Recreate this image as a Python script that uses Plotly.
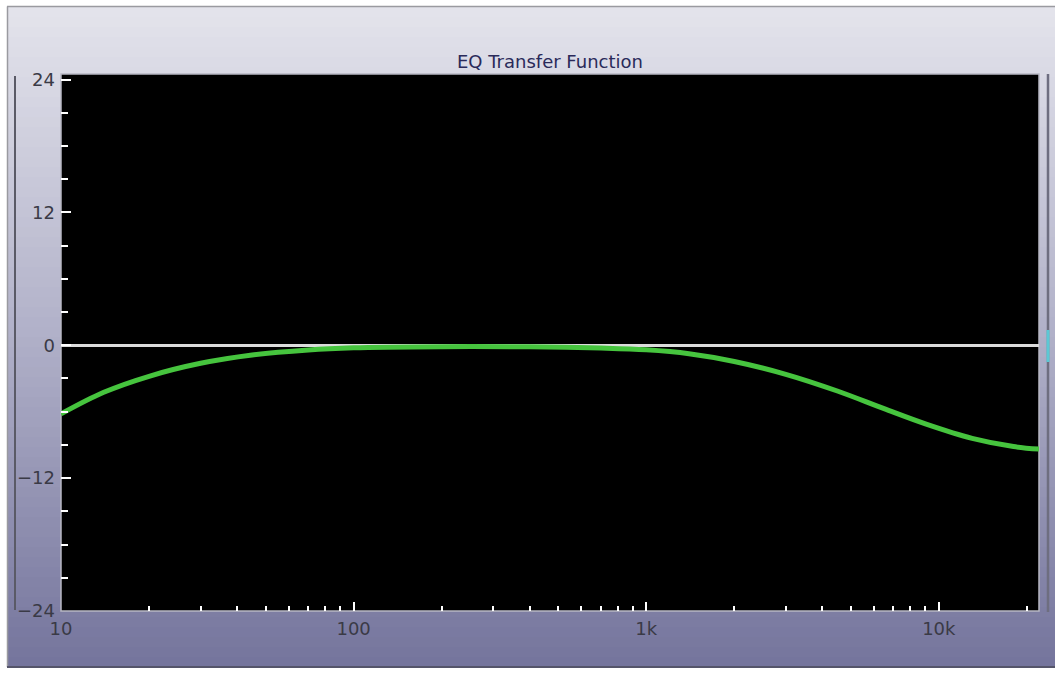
import plotly.graph_objects as go

# ---- data ----
freq_hz = [10, 14, 20, 30, 45, 70, 100, 200, 400, 700, 1000, 1400, 2000,
           3000, 4500, 6500, 9000, 13000, 18000, 22000]
gain_db = [-6.2, -4.25, -2.8, -1.63, -0.88, -0.42, -0.23, -0.13, -0.13, -0.25,
           -0.41, -0.76, -1.46, -2.62, -4.13, -5.73, -7.1, -8.41, -9.15, -9.38]

x_tickvals = [10, 100, 1000, 10000]
x_ticktext = ["10", "100", "1k", "10k"]
x_minor = [20, 30, 40, 50, 60, 70, 80, 90,
           200, 300, 400, 500, 600, 700, 800, 900,
           2000, 3000, 4000, 5000, 6000, 7000, 8000, 9000, 20000]
y_tickvals = [-24, -12, 0, 12, 24]
title_text = "EQ Transfer Function"

# ---- geometry (pixels) ----
W, H = 1055, 673
L, R, T, B = 61, 1039, 74, 611
pw, ph = R - L, B - T


def px(xp):
    return (xp - L) / pw


def py(yp):
    return (B - yp) / ph


shapes = []
# gradient window background
top_c = (228, 228, 236)
mid_c = (176, 176, 200)
bot_c = (116, 116, 156)
y0p, y1p = 7, 667
n = 66
for i in range(n):
    a = y0p + (y1p - y0p) * i / n
    b = y0p + (y1p - y0p) * (i + 1) / n
    t = (i + 0.5) / n
    if t < 0.5:
        u = t / 0.5
        c = [round(top_c[k] + (mid_c[k] - top_c[k]) * u) for k in range(3)]
    else:
        u = (t - 0.5) / 0.5
        c = [round(mid_c[k] + (bot_c[k] - mid_c[k]) * u) for k in range(3)]
    shapes.append(dict(type="rect", xref="paper", yref="paper",
                       x0=px(7), x1=px(1055), y0=py(b + 0.6), y1=py(a),
                       fillcolor="rgb(%d,%d,%d)" % tuple(c), line_width=0,
                       layer="below"))
# window frame lines
shapes.append(dict(type="line", xref="paper", yref="paper", x0=px(7), x1=px(1055),
                   y0=py(6.5), y1=py(6.5), line=dict(color="#9a9aa0", width=1.5), layer="below"))
shapes.append(dict(type="line", xref="paper", yref="paper", x0=px(7.5), x1=px(7.5),
                   y0=py(667), y1=py(6.5), line=dict(color="#9a9aa0", width=1.5), layer="below"))
shapes.append(dict(type="line", xref="paper", yref="paper", x0=px(7), x1=px(1055),
                   y0=py(667), y1=py(667), line=dict(color="#55556a", width=2), layer="below"))
# left/right side bars
shapes.append(dict(type="line", xref="paper", yref="paper", x0=px(15), x1=px(15),
                   y0=py(610), y1=py(76), line=dict(color="#5a5a66", width=2), layer="below"))
shapes.append(dict(type="line", xref="paper", yref="paper", x0=px(1048), x1=px(1048),
                   y0=py(612), y1=py(74), line=dict(color="#6e6e80", width=2.5), layer="below"))
shapes.append(dict(type="rect", xref="paper", yref="paper", x0=px(1046.5), x1=px(1049.5),
                   y0=py(362), y1=py(330), fillcolor="#5cc8d4", line_width=0, layer="below"))
# plot area
shapes.append(dict(type="rect", xref="paper", yref="paper", x0=0, x1=1, y0=0, y1=1,
                   fillcolor="black", line=dict(color="#b8b8c4", width=1.5), layer="below"))

fig = go.Figure()
fig.add_trace(go.Scatter(
    x=freq_hz, y=gain_db, mode="lines",
    line=dict(color="#46c43e", width=5, shape="spline", smoothing=1.0),
    hoverinfo="skip", showlegend=False))

tick_font = dict(family="DejaVu Sans", size=18, color="#3a3a46")

fig.update_layout(
    width=W, height=H,
    margin=dict(l=L, r=W - R, t=T, b=H - B, pad=0),
    paper_bgcolor="white",
    plot_bgcolor="black",
    showlegend=False,
    shapes=shapes,
    annotations=[dict(text=title_text, xref="paper", yref="paper", x=0.5, y=1,
                      yanchor="bottom", yshift=0, showarrow=False,
                      font=dict(family="DejaVu Sans", size=18, color="#2a2a5a"))],
    xaxis=dict(type="log", range=[1, 4.3424], showgrid=False, zeroline=False,
               tickmode="array", tickvals=x_tickvals, ticktext=x_ticktext,
               ticks="inside", ticklen=9, tickwidth=2, tickcolor="white",
               tickfont=tick_font, ticklabelstandoff=5,
               minor=dict(tickmode="array", tickvals=x_minor, ticks="inside",
                          ticklen=5, tickwidth=2, tickcolor="white", showgrid=False),
               showline=False, fixedrange=True),
    yaxis=dict(range=[-24, 24.5], showgrid=False,
               zeroline=True, zerolinecolor="#dcdcdc", zerolinewidth=2.5,
               tickmode="array", tickvals=y_tickvals,
               ticks="inside", ticklen=10, tickwidth=2, tickcolor="white",
               tickfont=tick_font, ticklabelstandoff=5,
               minor=dict(dtick=3, tick0=0, ticks="inside", ticklen=7,
                          tickwidth=2, tickcolor="white", showgrid=False),
               showline=False, fixedrange=True),
)

fig.write_html(
    "out.html",
    config={"displayModeBar": False},
    post_script="document.body.style.margin='0';document.body.style.overflow='hidden';",
)
